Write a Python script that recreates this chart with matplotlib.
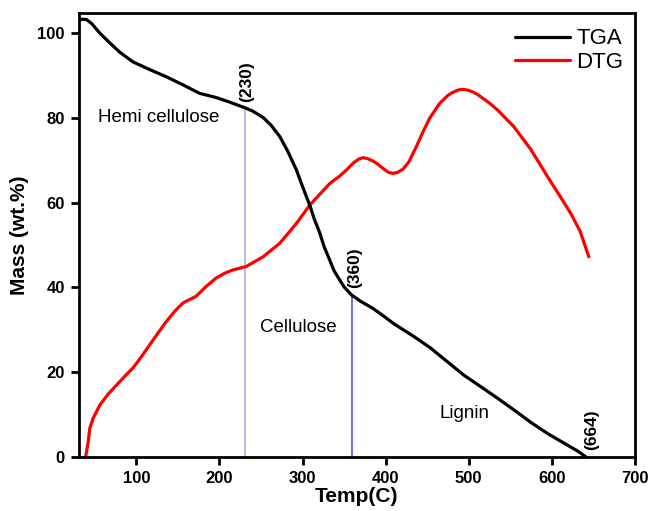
import matplotlib
matplotlib.use("Agg")
from matplotlib import pyplot as plt

plt.rcParams['font.family'] = ['Liberation Sans', 'DejaVu Sans']

# TGA curve (mass loss)
tga_T = [30.7, 35, 40, 46, 56, 68, 80, 96, 116, 136, 156, 176, 196, 212.5, 231.7, 240,
         252.5, 262, 272.6, 282, 292.7, 300, 308.7, 314, 320.8, 326, 332.8, 338, 344.9, 350,
         359, 370, 385, 397, 410, 422, 434, 454,
         474, 494, 515, 535, 555, 575, 595, 615, 630, 641]
tga_m = [103, 103.3, 103.2, 102.3, 100, 97.7, 95.5, 93.2, 91.4, 89.7, 87.8, 85.8, 84.8, 83.7, 82.3, 81.6,
         80.1, 78.3, 75.6, 72.2, 67.7, 63.8, 59.4, 56.2, 52.8, 49.6, 46.4, 43.9, 41.7, 40.1,
         38.2, 36.7, 35, 33.3, 31.4, 29.9, 28.4, 25.7,
         22.5, 19.3, 16.5, 13.8, 11, 8.1, 5.5, 3.2, 1.5, 0]

# DTG curve
dtg_T = [39, 42, 44, 48, 56, 66, 76, 86, 96, 106, 116, 126, 136, 146, 156, 164, 172, 184,
         196, 206, 216, 232, 252.5, 272.6, 292.7, 308.7, 320, 332.8, 345, 352.9, 362,
         368, 373, 378, 384, 389, 398, 404, 409, 414, 421, 428, 437, 445, 453, 465, 475, 480, 485,
         490, 494, 500, 505, 510, 515, 525, 535,
         554, 575, 595, 610, 623, 634, 644.6]
dtg_m = [0, 3.5, 6.8, 9.1, 12.2, 14.8, 16.9, 19, 21, 23.6, 26.4, 29.2, 31.9, 34.3, 36.3, 37.1, 37.9, 40.2,
         42.2, 43.3, 44.1, 44.9, 47.2, 50.4, 55.1, 59.4, 61.8, 64.5, 66.3, 67.7, 69.5,
         70.3, 70.6, 70.4, 69.9, 69.3, 67.9, 67.1, 66.9, 67.1, 67.9, 69.6, 73.2, 76.7, 79.9, 83.4, 85.3, 85.9, 86.4,
         86.7, 86.7, 86.5, 86.1, 85.6, 84.9, 83.5, 81.8,
         78, 72.5, 66.1, 61.5, 57.4, 53.3, 47.2]

# stage boundaries
mark_T = [231, 359]
mark_top = [82.4, 38.3]
mark_lbl = ['(230)', '(360)']
mark_col = ['#b4b4ee', '#6464dc']

fig = plt.figure(figsize=(6.62, 5.11), dpi=100)
ax = fig.add_axes([0.119, 0.106, 0.840, 0.869])

for t, top, c in zip(mark_T, mark_top, mark_col):
    ax.plot([t, t], [0, top], c=c, linewidth=1.3, zorder=1)

ax.plot(tga_T, tga_m, c='black', linewidth=2.3, label='TGA', zorder=3,
        solid_joinstyle='round', solid_capstyle='round')
ax.plot(dtg_T, dtg_m, c='red', linewidth=2.3, label='DTG', zorder=2,
        solid_joinstyle='round', solid_capstyle='round')

# подписи точек
ax.text(233, 83.8, '(230)', rotation=90, ha='center', va='bottom', fontsize=12.5, fontweight='bold')
ax.text(363, 39.8, '(360)', rotation=90, ha='center', va='bottom', fontsize=12.5, fontweight='bold')
ax.text(648, 1.5, '(664)', rotation=90, ha='center', va='bottom', fontsize=12.5, fontweight='bold')

ax.text(53.5, 80.2, 'Hemi cellulose', ha='left', va='center', fontsize=13.5)
ax.text(248.5, 30.6, 'Cellulose', ha='left', va='center', fontsize=13.5)
ax.text(465, 10.3, 'Lignin', ha='left', va='center', fontsize=13.5)

ax.set_xlim(30.7, 700)
ax.set_ylim(0, 104.8)
ax.set_xticks([100, 200, 300, 400, 500, 600, 700])
ax.set_yticks([0, 20, 40, 60, 80, 100])
ax.tick_params(direction='out', length=6, width=2, labelsize=12, pad=4,
               top=False, right=False)
for lab in ax.get_xticklabels() + ax.get_yticklabels():
    lab.set_fontweight('bold')
for s in ax.spines.values():
    s.set_linewidth(2)

ax.set_xlabel('Temp(C)', fontsize=15, fontweight='bold', labelpad=1)
ax.set_ylabel('Mass (wt.%)', fontsize=15, fontweight='bold', labelpad=6)

ax.legend(loc='upper right', frameon=False, fontsize=16, handlelength=2.45,
          handletextpad=0.3, labelspacing=0.12, borderaxespad=0.0,
          bbox_to_anchor=(0.995, 0.985))

fig.savefig('out.png', dpi=100)
